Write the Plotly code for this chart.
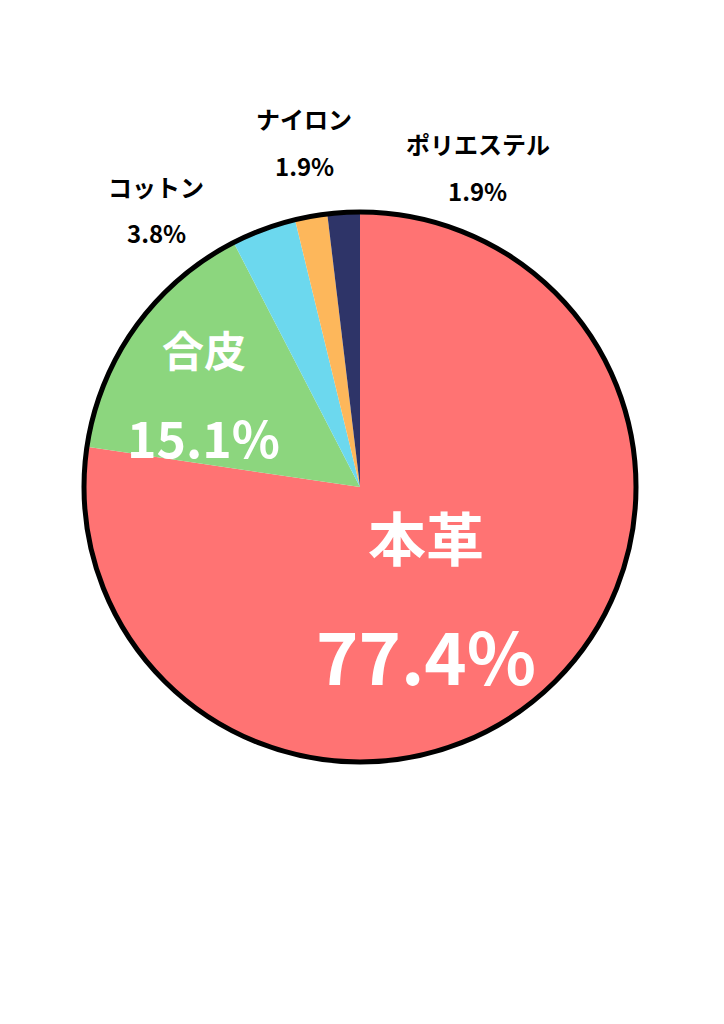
import plotly.graph_objects as go

labels = ["本革", "合皮", "コットン", "ナイロン", "ポリエステル"]
values = [77.4, 15.1, 3.8, 1.9, 1.9]
colors = ["#FF7373", "#8CD67E", "#6CD8EE", "#FDB75B", "#2E3468"]

W, H = 724, 1024
def px(x): return x / W
def py(y): return 1 - y / H

fig = go.Figure(go.Pie(
    labels=labels, values=values, sort=False, direction="clockwise", rotation=0,
    marker=dict(colors=colors, line=dict(width=0)), textinfo="none", hoverinfo="label+percent",
    showlegend=False,
    domain=dict(x=[px(75), px(629)], y=[py(755), py(203)]),
))
fig.add_shape(type="circle", xref="paper", yref="paper",
              x0=px(76), x1=px(628), y0=py(754), y1=py(204),
              line=dict(color="black", width=5))

F = "Noto Sans CJK JP"
ann = [
    ("本革", 418, 528, 58, "white"), ("77.4%", 418, 645, 72, "white"),
    ("合皮", 196, 340, 42, "white"), ("15.1%", 196, 428, 50, "white"),
    ("コットン", 148, 178, 24, "black"), ("3.8%", 148, 224, 24, "black"),
    ("ナイロン", 296, 110, 24, "black"), ("1.9%", 296, 157, 24, "black"),
    ("ポリエステル", 470, 135, 24, "black"), ("1.9%", 470, 182, 24, "black"),
]
for t, x, y, s, c in ann:
    fig.add_annotation(text="<b>%s</b>" % t, x=px(x), y=py(y), xref="paper", yref="paper",
                       showarrow=False, font=dict(family=F, size=s, color=c),
                       xanchor="center", yanchor="middle")

fig.update_layout(width=W, height=H, margin=dict(l=0, r=0, t=0, b=0),
                  paper_bgcolor="white", plot_bgcolor="white")
fig.write_html("out.html")
